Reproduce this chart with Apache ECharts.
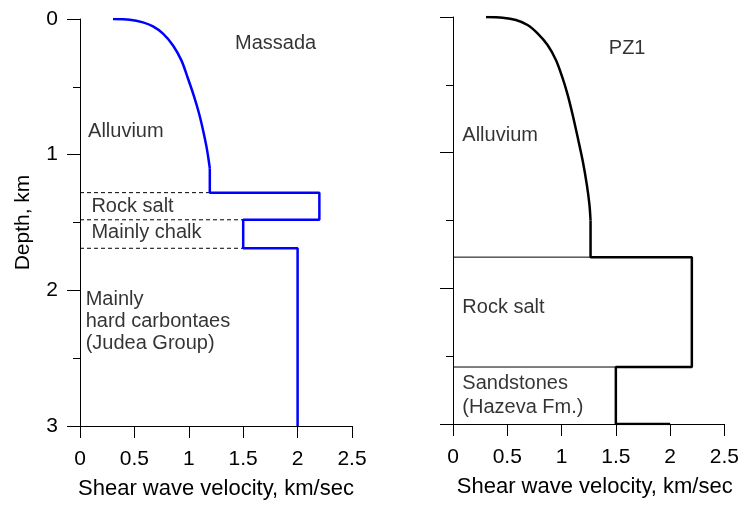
<!DOCTYPE html>
<html>
<head>
<meta charset="utf-8">
<script src="https://cdn.jsdelivr.net/npm/echarts@6/dist/echarts.min.js"></script>
<style>
  html, body { margin: 0; padding: 0; background: #fff; }
  #chart { width: 742px; height: 505px; }
</style>
</head>
<body>
<div id="chart"></div>
<script>
// velocity ticks (km/sec) and depth ticks (km)
const velTicks = [0, 0.5, 1, 1.5, 2, 2.5];
const depthTicks = [0, 1, 2, 3];

// Massada profile: smooth alluvium curve, then layered steps
const massadaCurveV = [0.303, 0.457, 0.579, 0.671, 0.763, 0.855, 0.932, 0.990, 1.048, 1.093, 1.130, 1.162, 1.182, 1.193];
const massadaCurveD = [0, 0.005, 0.025, 0.055, 0.108, 0.195, 0.305, 0.433, 0.570, 0.693, 0.816, 0.939, 1.037, 1.10];
const massadaStepV = [1.193, 1.193, 2.20, 2.20, 1.50, 1.50, 2.00, 2.00];
const massadaStepD = [1.10, 1.28, 1.28, 1.48, 1.48, 1.69, 1.69, 3.00];
// dashed layer boundaries (depth, velocity where the line stops)
const massadaBoundD = [1.28, 1.48, 1.69];
const massadaBoundV = [1.193, 1.50, 1.50];

// PZ1 profile
const pzCurveV = [0.304, 0.457, 0.580, 0.687, 0.779, 0.871, 0.948, 1.005, 1.055, 1.102, 1.150, 1.196, 1.233, 1.257, 1.267];
const pzCurveD = [0, 0.005, 0.022, 0.059, 0.121, 0.207, 0.317, 0.440, 0.570, 0.720, 0.892, 1.065, 1.237, 1.384, 1.50];
const pzStepV = [1.267, 1.267, 2.20, 2.20, 1.50, 1.50, 2.00];
const pzStepD = [1.50, 1.77, 1.77, 2.58, 2.58, 3.00, 3.00];
const pzBoundD = [1.77, 2.58];
const pzBoundV = [1.267, 1.50];

// layer labels: text, velocity, depth
const massadaLabels = ['Massada', 'Alluvium', 'Rock salt', 'Mainly chalk', 'Mainly\nhard carbontaes\n(Judea Group)'];
const massadaLabelV = [1.425, 0.074, 0.105, 0.105, 0.052];
const massadaLabelD = [0.18, 0.83, 1.38, 1.575, 2.226];
const pzLabels = ['PZ1', 'Alluvium', 'Rock salt', 'Sandstones\n(Hazeva Fm.)'];
const pzLabelV = [1.435, 0.086, 0.086, 0.086];
const pzLabelD = [0.234, 0.872, 2.14, 2.79];

const FONT = '"Liberation Sans", Arial, sans-serif';

function zip(a, b) {
  return a.map((v, i) => [v, b[i]]);
}

function xAxisFor(idx, shift) {
  return {
    type: 'value',
    gridIndex: idx,
    min: velTicks[0],
    max: velTicks[velTicks.length - 1],
    interval: 0.5,
    name: 'Shear wave velocity, km/sec',
    nameLocation: 'middle',
    nameGap: 52,
    nameTextStyle: { color: '#000', fontSize: 22, fontFamily: FONT, padding: [0, 0, 0, shift] },
    axisLine: { onZero: false, lineStyle: { color: '#000', width: 1 } },
    axisTick: { length: 12, lineStyle: { color: '#000', width: 1 } },
    axisLabel: { color: '#000', fontSize: 21, fontFamily: FONT, margin: 23 },
    splitLine: { show: false },
  };
}

function yAxisFor(idx, showLabels) {
  return {
    type: 'value',
    gridIndex: idx,
    inverse: true,
    min: depthTicks[0],
    max: depthTicks[depthTicks.length - 1],
    interval: 1,
    name: showLabels ? 'Depth, km' : '',
    nameLocation: 'middle',
    nameGap: 46,
    nameTextStyle: { color: '#000', fontSize: 21, fontFamily: FONT },
    axisLine: { onZero: false, lineStyle: { color: '#000', width: 1 } },
    axisTick: { length: 13, lineStyle: { color: '#000', width: 1 } },
    minorTick: { show: true, splitNumber: 2, length: 7, lineStyle: { color: '#000', width: 1 } },
    axisLabel: { show: showLabels, color: '#000', fontSize: 21, fontFamily: FONT, margin: 22 },
    splitLine: { show: false },
    minorSplitLine: { show: false },
  };
}

function lineSeries(idx, data, color, width, type, smooth) {
  return {
    type: 'line',
    xAxisIndex: idx,
    yAxisIndex: idx,
    data,
    symbol: 'none',
    smooth: smooth || false,
    lineStyle: { color, width, type: type || 'solid' },
    silent: true,
    z: width > 1 ? 3 : 2,
  };
}

function boundSeries(idx, depths, vels, dashed) {
  return depths.map((d, i) => lineSeries(idx, [[0, d], [vels[i], d]], '#000', 1, dashed ? [4, 3] : 'solid'));
}

function labelSeries(idx, texts, vels, depths, lh) {
  return {
    type: 'scatter',
    xAxisIndex: idx,
    yAxisIndex: idx,
    symbolSize: 0,
    itemStyle: { color: '#000' },
    silent: true,
    data: texts.map((t, i) => ({ value: [vels[i], depths[i]], name: t })),
    label: {
      show: true,
      position: 'right',
      distance: 0,
      formatter: (p) => p.name,
      color: '#000',
      fontSize: 20,
      fontFamily: FONT,
      lineHeight: lh,
      align: 'left',
    },
  };
}

const chart = echarts.init(document.getElementById('chart'), null, { renderer: 'canvas' });
chart.setOption({
  animation: false,
  backgroundColor: '#fff',
  grid: [
    { left: 80, top: 19, width: 272, height: 407 },
    { left: 453, top: 17, width: 272, height: 407 },
  ],
  xAxis: [xAxisFor(0, 0), xAxisFor(1, 12)],
  yAxis: [yAxisFor(0, true), yAxisFor(1, false)],
  series: [
    ...boundSeries(0, massadaBoundD, massadaBoundV, true),
    ...boundSeries(1, pzBoundD, pzBoundV, false),
    lineSeries(0, zip(massadaCurveV, massadaCurveD), '#0000ff', 2.5, 'solid', 0.3),
    lineSeries(0, zip(massadaStepV, massadaStepD), '#0000ff', 2.5),
    lineSeries(1, zip(pzCurveV, pzCurveD), '#000', 2.5, 'solid', 0.3),
    lineSeries(1, zip(pzStepV, pzStepD), '#000', 2.5),
    labelSeries(0, massadaLabels, massadaLabelV, massadaLabelD, 22),
    labelSeries(1, pzLabels, pzLabelV, pzLabelD, 24),
  ],
});
</script>
</body>
</html>
